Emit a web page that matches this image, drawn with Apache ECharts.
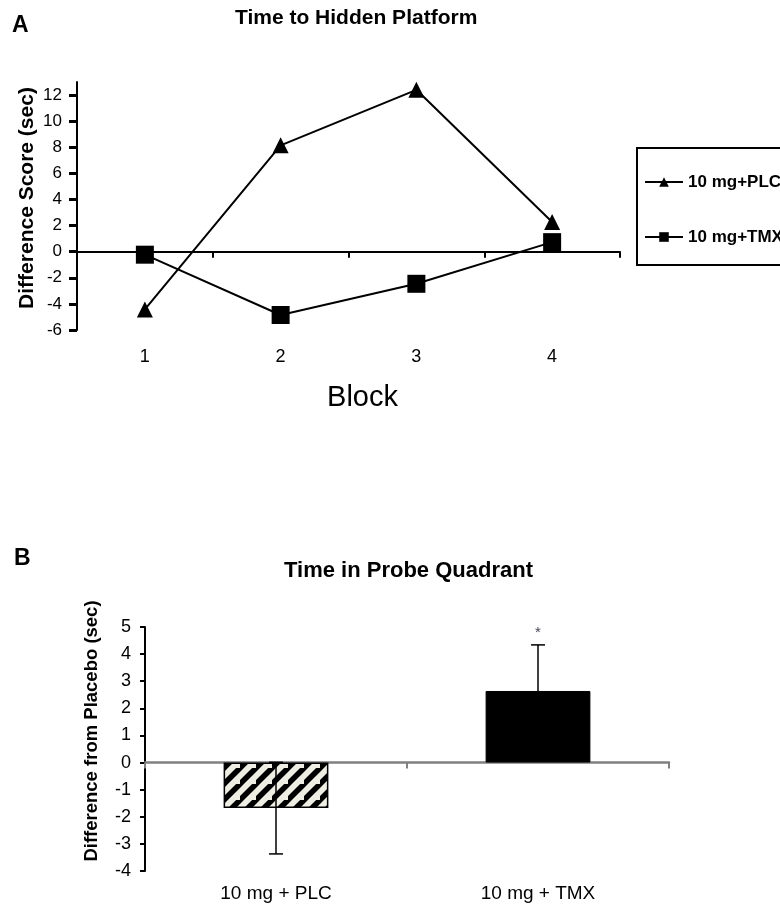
<!DOCTYPE html>
<html>
<head>
<meta charset="utf-8">
<script src="https://cdn.jsdelivr.net/npm/echarts@6/dist/echarts.min.js"></script>
<style>
  html, body { margin: 0; padding: 0; background: #fff; }
  #chart { width: 780px; height: 906px; }
</style>
</head>
<body>
<div id="chart"></div>
<script>
// ---- Data (Panel A) ----
const blocks = ['1', '2', '3', '4'];
const plcDiff = [-4.42, 8.15, 12.4, 2.27];
const tmxDiff = [-0.23, -4.85, -2.46, 0.73];
const yTicksA = [-6, -4, -2, 0, 2, 4, 6, 8, 10, 12];
const seriesNamesA = ['10 mg+PLC', '10 mg+TMX'];

// ---- Data (Panel B) ----
const groupsB = ['10 mg + PLC', '10 mg + TMX'];
const probeMeans = [-1.68, 2.64];
const probeErrors = [1.69, 1.70];
const sigMarks = ['', '*'];
const yTicksB = [-4, -3, -2, -1, 0, 1, 2, 3, 4, 5];

const FONT = '"Liberation Sans", Arial, sans-serif';

// hatch pattern for PLC bar
function makeHatch() {
  const s = 16;
  const c = document.createElement('canvas');
  c.width = s; c.height = s;
  const g = c.getContext('2d');
  g.fillStyle = '#eeeee4';
  g.fillRect(0, 0, s, s);
  g.strokeStyle = '#000';
  g.lineWidth = 5.5;
  g.beginPath();
  g.moveTo(-4, s + 4); g.lineTo(s + 4, -4);
  g.moveTo(-4 - s, s + 4); g.lineTo(4, -4);
  g.moveTo(s - 4, 2 * s + 4); g.lineTo(2 * s + 4, s - 4);
  g.stroke();
  return c;
}
const hatch = makeHatch();

const chart = echarts.init(document.getElementById('chart'), null, { renderer: 'canvas' });

const option = {
  backgroundColor: '#fff',
  animation: false,
  textStyle: { fontFamily: FONT, color: '#000' },
  title: [
    { text: 'A', left: 12, top: 14, padding: 0, textStyle: { fontFamily: FONT, fontSize: 23, fontWeight: 'bold', color: '#000' } },
    { text: 'Time to Hidden Platform', left: 235, top: 8, padding: 0, textStyle: { fontFamily: FONT, fontSize: 21, fontWeight: 'bold', color: '#000' } },
    { text: 'B', left: 14, top: 547, padding: 0, textStyle: { fontFamily: FONT, fontSize: 23, fontWeight: 'bold', color: '#000' } },
    { text: 'Time in Probe Quadrant', left: 284, top: 560, padding: 0, textStyle: { fontFamily: FONT, fontSize: 22, fontWeight: 'bold', color: '#000' } }
  ],
  legend: {
    data: seriesNamesA,
    orient: 'vertical',
    left: 637,
    top: 148,
    padding: [24, 60, 18, 7],
    itemGap: 35,
    itemWidth: 38,
    itemHeight: 12,
    borderColor: '#000',
    borderWidth: 2,
    borderRadius: 0,
    textStyle: { fontFamily: FONT, fontSize: 17, fontWeight: 'bold', color: '#000', lineHeight: 20 }
  },
  grid: [
    { left: 77, right: 160, top: 82, bottom: 576, containLabel: false, outerBoundsMode: 'none' },
    { left: 145, right: 111, top: 627, bottom: 35, containLabel: false, outerBoundsMode: 'none' }
  ],
  xAxis: [
    {
      gridIndex: 0,
      type: 'category',
      data: blocks,
      boundaryGap: true,
      axisLine: { onZero: true, lineStyle: { color: '#000', width: 2 } },
      axisTick: { show: true, length: 6, lineStyle: { color: '#000', width: 2 } },
      axisLabel: { margin: 18, fontSize: 18, color: '#000', fontFamily: FONT },
      name: 'Block',
      nameLocation: 'middle',
      nameGap: 53,
      nameMoveOverlap: false,
      nameTextStyle: { fontSize: 29, color: '#000', fontFamily: FONT, padding: [0, 0, 0, 28] },
      splitLine: { show: false }
    },
    {
      gridIndex: 1,
      type: 'category',
      data: groupsB,
      boundaryGap: true,
      axisLine: { onZero: true, lineStyle: { color: '#808080', width: 2.5 } },
      axisTick: { show: true, length: 6, lineStyle: { color: '#808080', width: 2 } },
      axisLabel: { margin: 13, fontSize: 19, color: '#000', fontFamily: FONT },
      splitLine: { show: false }
    }
  ],
  yAxis: [
    {
      gridIndex: 0,
      type: 'value',
      min: -6,
      max: 13,
      interval: 2,
      axisLine: { show: true, lineStyle: { color: '#000', width: 2 } },
      axisTick: { show: true, length: 8, customValues: yTicksA, lineStyle: { color: '#000', width: 3 } },
      axisLabel: { margin: 15, fontSize: 17, color: '#000', fontFamily: FONT, customValues: yTicksA },
      splitLine: { show: false },
      name: 'Difference Score (sec)',
      nameLocation: 'middle',
      nameGap: 39,
      nameMoveOverlap: false,
      nameTextStyle: { fontSize: 21, fontWeight: 'bold', color: '#000', fontFamily: FONT, padding: [0, 0, 0, 16] }
    },
    {
      gridIndex: 1,
      type: 'value',
      min: -4,
      max: 5,
      interval: 1,
      axisLine: { show: true, lineStyle: { color: '#000', width: 2 } },
      axisTick: { show: true, length: 5, customValues: yTicksB, lineStyle: { color: '#000', width: 2 } },
      axisLabel: { margin: 14, fontSize: 18, color: '#000', fontFamily: FONT, customValues: yTicksB },
      splitLine: { show: false },
      name: 'Difference from Placebo (sec)',
      nameLocation: 'middle',
      nameGap: 44,
      nameMoveOverlap: false,
      nameTextStyle: { fontSize: 18.5, fontWeight: 'bold', color: '#000', fontFamily: FONT, padding: [0, 0, 0, 36] }
    }
  ],
  series: [
    {
      name: seriesNamesA[0],
      type: 'line',
      xAxisIndex: 0, yAxisIndex: 0,
      data: plcDiff,
      symbol: 'triangle',
      symbolSize: 16,
      lineStyle: { color: '#000', width: 2 },
      itemStyle: { color: '#000' },
      z: 3
    },
    {
      name: seriesNamesA[1],
      type: 'line',
      xAxisIndex: 0, yAxisIndex: 0,
      data: tmxDiff,
      symbol: 'rect',
      symbolSize: 18,
      lineStyle: { color: '#000', width: 2 },
      itemStyle: { color: '#000' },
      z: 3
    },
    {
      type: 'bar',
      xAxisIndex: 1, yAxisIndex: 1,
      barWidth: '40%',
      data: probeMeans.map(function (v, i) {
        return {
          value: v,
          itemStyle: i === 0
            ? { color: { image: hatch, repeat: 'repeat' }, borderColor: '#000', borderWidth: 1.5 }
            : { color: '#000', borderColor: '#000', borderWidth: 1 }
        };
      }),
      z: 2
    },
    {
      type: 'custom',
      xAxisIndex: 1, yAxisIndex: 1,
      data: probeMeans.map(function (v, i) { return [i, v, probeErrors[i]]; }),
      z: 5,
      renderItem: function (params, api) {
        const x = api.value(0), m = api.value(1), e = api.value(2);
        const top = api.coord([x, m + e]);
        const bot = api.coord([x, m - e]);
        const hw = 7;
        const style = { stroke: '#000', lineWidth: 1.5 };
        const children = [
          { type: 'line', shape: { x1: top[0], y1: top[1], x2: bot[0], y2: bot[1] }, style: style },
          { type: 'line', shape: { x1: top[0] - hw, y1: top[1], x2: top[0] + hw, y2: top[1] }, style: style },
          { type: 'line', shape: { x1: bot[0] - hw, y1: bot[1], x2: bot[0] + hw, y2: bot[1] }, style: style }
        ];
        const mark = sigMarks[params.dataIndex];
        if (mark) {
          children.push({
            type: 'text',
            style: { text: mark, x: top[0], y: top[1] - 12, align: 'center', verticalAlign: 'middle',
                     fontSize: 15, fontFamily: FONT, fill: '#445' }
          });
        }
        return { type: 'group', children: children };
      }
    }
  ]
};

chart.setOption(option);
</script>
</body>
</html>
